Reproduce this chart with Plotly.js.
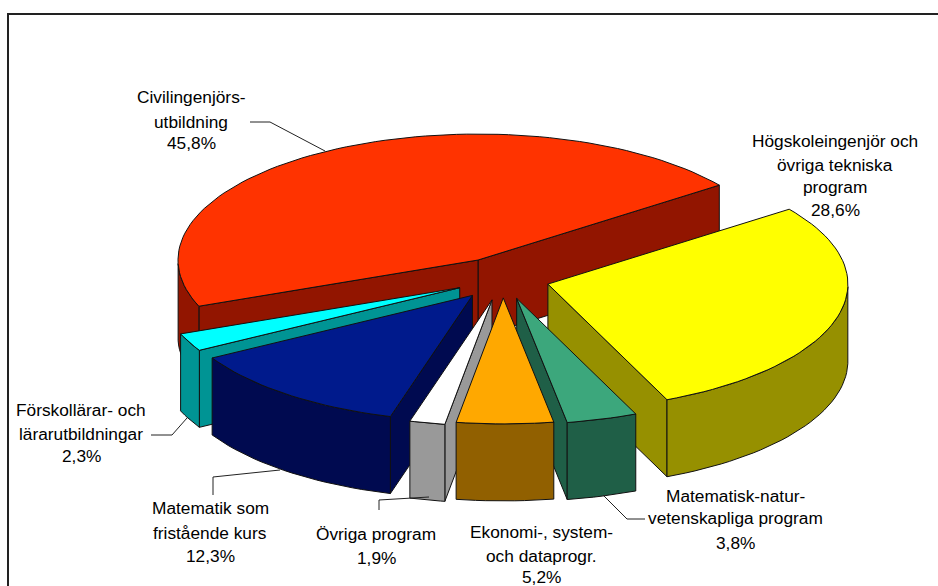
<!DOCTYPE html>
<html><head><meta charset="utf-8">
<script src="https://cdn.plot.ly/plotly-3.0.1.min.js"></script>
<style>html,body{margin:0;padding:0;background:#fff}</style></head>
<body><div id="chart" style="width:938px;height:586px"></div>
<script>
// Data, clockwise starting with the red slice
const categories = ['Civilingenjörsutbildning','Högskoleingenjör och övriga tekniska program','Matematisk-naturvetenskapliga program','Ekonomi-, system- och dataprogr.','Övriga program','Matematik som fristående kurs','Förskollärar- och lärarutbildningar'];
const values = [45.8,28.6,3.8,5.2,1.9,12.3,2.3];
const topColors = ['#FF3300','#FFFF00','#3CA77C','#FFA800','#FFFFFF','#001A8C','#00FFFF'];
const sideColors = ['#921500','#969000','#1F5F47','#916000','#999999','#000A50','#009494'];
const pull = [0.172,0.155,0.16,0.15,0.17,0.165,0.16];
const drawOrder = [0,1,6,5,2,4,3];
const labelLines = [
  ['Civilingenjörs-','utbildning','45,8%'],
  ['Högskoleingenjör och','övriga tekniska','program','28,6%'],
  ['Matematisk-natur-','vetenskapliga program','3,8%'],
  ['Ekonomi-, system-','och dataprogr.','5,2%'],
  ['Övriga program','1,9%'],
  ['Matematik som','fristående kurs','12,3%'],
  ['Förskollärar- och','lärarutbildningar','2,3%']
];
const labelX = [191,835,735,541,376,210,81];
const labelY = [[97,122,143],[141,165,187,210],[496,518,543],[532,556,577],[534,558],[508,533,556],[410,434,456]];
const leaderX = [[250,270,325],[],[603,627,645],[],[379,379,429],[213,213,280],[151,172,187]];
const leaderY = [[122,122,151],[],[495,519,519],[],[510,500,497],[495,477,470],[435,435,418]];

// Pie geometry
const cx=503, cy=279, rx=300, ry=126, depth=77, firstAngle=201.5;
const total=values.reduce((a,b)=>a+b,0);
const rad=d=>d*Math.PI/180;
const traces=[];
function poly(xs,ys,fill,name){
  traces.push({type:'scatter',mode:'lines',x:xs.concat(xs[0]),y:ys.concat(ys[0]),fill:'toself',fillcolor:fill,
    line:{color:'#111',width:1},hoverinfo:'name',name:name,showlegend:false});
}
let a=firstAngle; const spans=values.map(v=>{const s=[a,a-v/total*360];a=s[1];return s;}); // a decreasing = clockwise
drawOrder.forEach(i=>{
  const [hi,lo]=spans[i], mid=(hi+lo)/2;
  const tx=cx+pull[i]*rx*Math.cos(rad(mid)), ty=cy-pull[i]*ry*Math.sin(rad(mid));
  const pt=d=>[tx+rx*Math.cos(rad(d)),ty-ry*Math.sin(rad(d))];
  const face=(d)=>{const p=pt(d);poly([tx,p[0],p[0],tx],[ty,p[1],p[1]+depth,ty+depth],sideColors[i],categories[i]);};
  // cut faces: only the ones turned to the viewer
  if(Math.sin(rad(lo-90))<0) face(lo);
  if(Math.sin(rad(hi+90))<0) face(hi);
  // outer wall: the part of the arc facing down
  const step=(hi-lo)/Math.max(8,Math.ceil((hi-lo)/2));
  const wall=[];
  for(let d=lo;d<=hi+1e-6;d+=step){ if(Math.sin(rad(d))<=0.0001) wall.push(pt(d)); }
  if(wall.length>1){
    poly(wall.map(p=>p[0]).concat(wall.map(p=>p[0]).reverse()),
         wall.map(p=>p[1]).concat(wall.map(p=>p[1]+depth).reverse()),sideColors[i],categories[i]);
  }
  // top face
  const xs=[tx],ys=[ty];
  for(let d=lo;d<=hi+1e-6;d+=step){const p=pt(d);xs.push(p[0]);ys.push(p[1]);}
  poly(xs,ys,topColors[i],categories[i]);
});
// leader lines
leaderX.forEach((lx,i)=>{ if(lx.length) traces.push({type:'scatter',mode:'lines',x:lx,y:leaderY[i],line:{color:'#222',width:1},hoverinfo:'skip',showlegend:false}); });
const annotations=[];
labelLines.forEach((lines,i)=>lines.forEach((t,j)=>annotations.push({x:labelX[i],y:labelY[i][j],xref:'x',yref:'y',text:t,showarrow:false,xanchor:'center',yanchor:'middle',font:{family:'Liberation Sans, Arial, sans-serif',size:17.3,color:'#000'}})));
const layout={width:938,height:586,margin:{l:0,r:0,t:0,b:0},paper_bgcolor:'#fff',plot_bgcolor:'#fff',showlegend:false,
  xaxis:{range:[0,938],visible:false,fixedrange:true},
  yaxis:{range:[586,0],visible:false,fixedrange:true},
  annotations,
  shapes:[{type:'rect',xref:'x',yref:'y',x0:8,x1:960,y0:14,y1:610,line:{color:'#222',width:2},fillcolor:'rgba(0,0,0,0)',layer:'below'}]};
Plotly.newPlot('chart',traces,layout,{displayModeBar:false,staticPlot:false});
</script></body></html>
